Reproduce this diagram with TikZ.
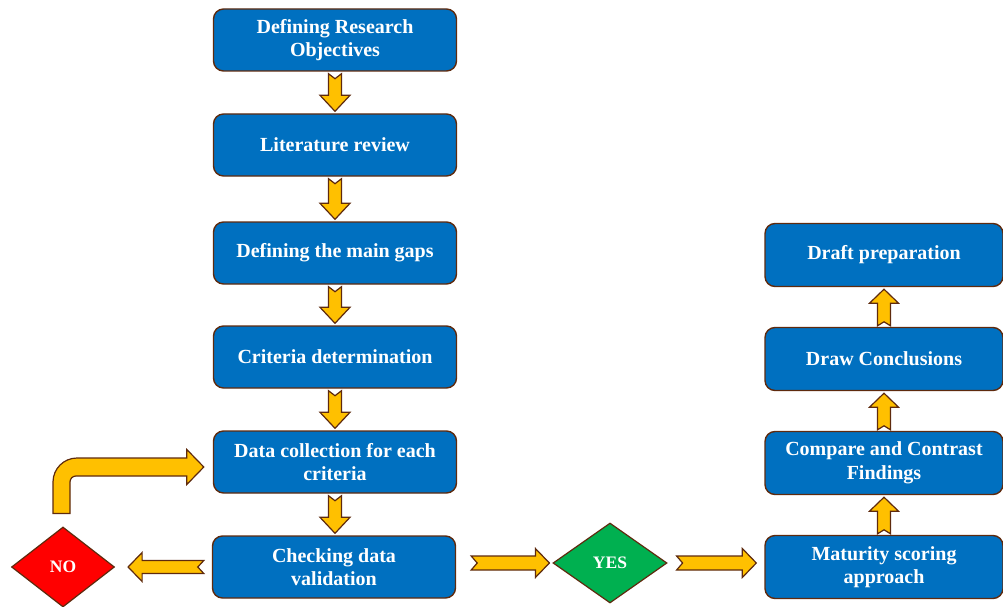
\documentclass[tikz,border=0pt]{standalone}
\usepackage{fontspec}
\setmainfont{Liberation Serif}
\usetikzlibrary{calc,shapes.geometric}
\definecolor{boxblue}{HTML}{0070C0}
\definecolor{edgebrown}{HTML}{5E2A0E}
\definecolor{arrowgold}{HTML}{FFC000}
\definecolor{noRed}{HTML}{FF0000}
\definecolor{yesGreen}{HTML}{00B050}
\tikzset{
  stepbox/.style={draw=edgebrown, line width=1.4pt, fill=boxblue, rounded corners=10pt,
    minimum width=243pt, minimum height=62pt, inner sep=0pt, align=center,
    text=white, font=\fontsize{20}{23.5}\selectfont\bfseries},
  rightbox/.style={stepbox, minimum width=238pt, minimum height=63pt},
  decision/.style={diamond, draw=edgebrown, line width=1.2pt, inner sep=0pt,
    text=white, font=\fontsize{17.5}{20}\selectfont\bfseries},
  blockarrow/.style={draw=edgebrown, line width=1.2pt, fill=arrowgold, line join=miter}
}
\newcommand{\downarr}[2]{%
  \path[blockarrow] let \p1=(#1.south), \p2=(#2.north) in
  (\x1-6.5pt,\y1-2pt) -- (\x1,\y1-7pt) -- (\x1+6.5pt,\y1-2pt) -- (\x1+6.5pt,\y2+18pt)
  -- (\x1+15pt,\y2+18pt) -- (\x1,\y2+2pt) -- (\x1-15pt,\y2+18pt) -- (\x1-6.5pt,\y2+18pt) -- cycle;}
\newcommand{\uparr}[2]{%
  \path[blockarrow] let \p1=(#1.north), \p2=(#2.south) in
  (\x1-6.5pt,\y1+1pt) -- (\x1,\y1+5pt) -- (\x1+6.5pt,\y1+1pt) -- (\x1+6.5pt,\y2-16pt)
  -- (\x1+14.5pt,\y2-16pt) -- (\x1,\y2-2pt) -- (\x1-14.5pt,\y2-16pt) -- (\x1-6.5pt,\y2-16pt) -- cycle;}
\newcommand{\rarr}[2]{%
  \path[blockarrow] let \p1=#1, \p2=#2 in
  (\x1,\y1+7pt) -- (\x2-14pt,\y1+7pt) -- (\x2-14pt,\y1+14.5pt) -- (\x2,\y1)
  -- (\x2-14pt,\y1-14.5pt) -- (\x2-14pt,\y1-7pt) -- (\x1,\y1-7pt) -- (\x1+6pt,\y1) -- cycle;}
\newcommand{\larr}[2]{%
  \path[blockarrow] let \p1=#1, \p2=#2 in
  (\x1,\y1+6.5pt) -- (\x2+14pt,\y1+6.5pt) -- (\x2+14pt,\y1+14.5pt) -- (\x2,\y1)
  -- (\x2+14pt,\y1-14.5pt) -- (\x2+14pt,\y1-6.5pt) -- (\x1,\y1-6.5pt) -- (\x1-6pt,\y1) -- cycle;}
\begin{document}
\begin{tikzpicture}[x=1pt,y=1pt]
\useasboundingbox (0,0) rectangle (1003,-607);
% left column
\node[stepbox] (d1) at (335,-40) {Defining Research\\Objectives};
\node[stepbox] (d2) at (335,-145) {Literature review};
\node[stepbox] (d3) at (335,-253) {Defining the main gaps};
\node[stepbox] (d4) at (335,-357) {Criteria determination};
\node[stepbox] (d5) at (335,-462) {Data collection for each\\criteria};
\node[stepbox] (d6) at (334,-567) {Checking data\\validation};
% right column
\node[rightbox] (r1) at (884,-255) {Draft preparation};
\node[rightbox] (r2) at (884,-359) {Draw Conclusions};
\node[rightbox] (r3) at (884,-463) {Compare and Contrast\\Findings};
\node[rightbox] (r4) at (884,-567) {Maturity scoring\\approach};
% decisions
\node[decision, fill=noRed, minimum width=103pt, minimum height=80pt] (no) at (63,-567) {NO};
\node[decision, fill=yesGreen, minimum width=114pt, minimum height=80pt] (yes) at (610,-563) {YES};
% down arrows
\downarr{d1}{d2}
\downarr{d2}{d3}
\downarr{d3}{d4}
\downarr{d4}{d5}
\downarr{d5}{d6}
% up arrows
\uparr{r4}{r3}
\uparr{r3}{r2}
\uparr{r2}{r1}
% horizontal arrows
\larr{($(d6.west)+(-8,0)$)}{($(no.east)+(13,0)$)}
\rarr{($(d6.east|-yes.center)+(15,0)$)}{($(yes.west)+(-3,0)$)}
\rarr{($(yes.east)+(9,0)$)}{($(r4.west|-yes.center)+(-8,0)$)}
% bent arrow from NO back to data collection
\path[blockarrow] let \p1=($(no.north)+(-1.5,13)$), \p2=($(d5.west)+(-9,-5)$) in
  (\x1-8.5pt,\y1) -- (\x1-8.5pt,\y2-15pt)
  .. controls (\x1-8.5pt,\y2-1.75pt) and (\x1+2.25pt,\y2+9pt) .. (\x1+15.5pt,\y2+9pt)
  -- (\x2-17pt,\y2+9pt) -- (\x2-17pt,\y2+17.5pt) -- (\x2,\y2) -- (\x2-17pt,\y2-17.5pt)
  -- (\x2-17pt,\y2-9pt) -- (\x1+14.5pt,\y2-9pt)
  .. controls (\x1+11.2pt,\y2-9pt) and (\x1+8.5pt,\y2-11.7pt) .. (\x1+8.5pt,\y2-15pt)
  -- (\x1+8.5pt,\y1) -- cycle;
\end{tikzpicture}
\end{document}
